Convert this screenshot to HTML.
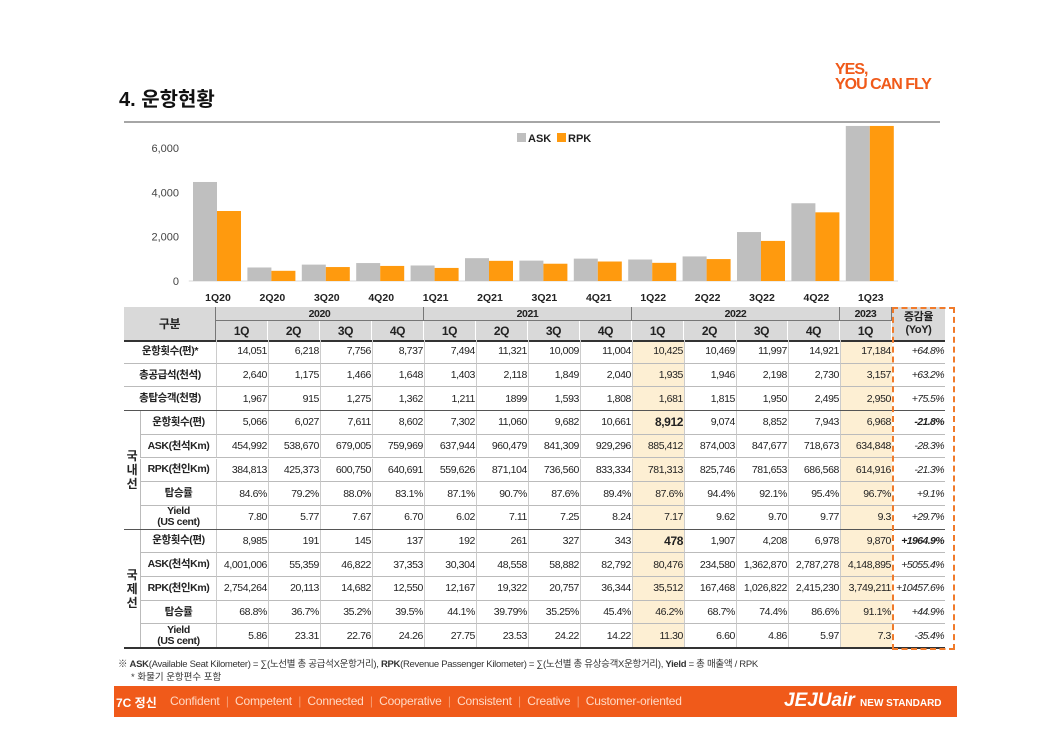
<!DOCTYPE html>
<html><head><meta charset="utf-8">
<style>
body{margin:0;width:1060px;height:749px;background:#fff;position:relative;overflow:hidden;font-family:"Liberation Sans Narrow","Liberation Sans","Noto Sans CJK KR",sans-serif;}
.abs{position:absolute;}
.c{position:absolute;box-sizing:border-box;font-size:10.5px;letter-spacing:-0.4px;color:#222;display:flex;align-items:center;white-space:nowrap;}
.r{justify-content:flex-end;padding-right:1px;}
.m{justify-content:center;text-align:center;}
</style></head><body>
<div class="abs" style="left:119px;top:83px;font-family:'Liberation Sans','Noto Sans CJK KR',sans-serif;font-weight:bold;font-size:20px;color:#111;">4. 운항현황</div>
<div class="abs" style="left:835px;top:62px;font-family:'Liberation Sans',sans-serif;font-weight:900;font-size:16px;line-height:15px;color:#f05a1a;letter-spacing:-1px;">YES,<br>YOU CAN FLY</div>
<div class="abs" style="left:124px;top:121px;width:816px;height:2px;background:#a6a6a6;"></div>

<svg class="abs" id="chart" style="left:0;top:0" width="1060" height="310"></svg>

<div id="table"></div>
<div class="abs" style="left:892px;top:307px;width:63px;height:343px;border:2px dashed #f07a2a;box-sizing:border-box;"></div>

<div class="abs" style="left:118px;top:656px;font-size:9.5px;letter-spacing:-0.3px;color:#333;">※ <b>ASK</b>(Available Seat Kilometer) = ∑(노선별 총 공급석X운항거리), <b>RPK</b>(Revenue Passenger Kilometer) = ∑(노선별 총 유상승객X운항거리), <b>Yield</b> = 총 매출액 / RPK</div>
<div class="abs" style="left:131px;top:669px;font-size:9.5px;color:#333;">* 화물기 운항편수 포함</div>

<div class="abs" style="left:114px;top:686px;width:843px;height:31px;background:#f05a1a;color:#fff;font-size:12px;font-family:'Liberation Sans','Noto Sans CJK KR',sans-serif;">
<span class="abs" style="left:2px;top:8px;font-weight:bold;">7C 정신</span>
<span class="abs" style="left:56px;top:8px;color:#ffd9c4;letter-spacing:-0.2px;">Confident <span style="color:#f79a70">&nbsp;|&nbsp;</span> Competent <span style="color:#f79a70">&nbsp;|&nbsp;</span> Connected <span style="color:#f79a70">&nbsp;|&nbsp;</span> Cooperative <span style="color:#f79a70">&nbsp;|&nbsp;</span> Consistent <span style="color:#f79a70">&nbsp;|&nbsp;</span> Creative <span style="color:#f79a70">&nbsp;|&nbsp;</span> Customer-oriented</span>
<span class="abs" style="left:670px;top:4px;font-weight:900;font-style:italic;font-size:19px;">JEJUair <span style="font-size:10px;font-style:normal;">NEW STANDARD</span></span>
</div>

<script>
const categories=["1Q20","2Q20","3Q20","4Q20","1Q21","2Q21","3Q21","4Q21","1Q22","2Q22","3Q22","4Q22","1Q23"];
const askValues=[4470,610,740,810,700,1030,920,1010,970,1110,2210,3510,7000];
const rpkValues=[3160,460,630,680,590,910,780,880,820,990,1810,3100,7000];
const yTicks=[0,2000,4000,6000];
const yTickLabels=["0","2,000","4,000","6,000"];
const svg=document.getElementById('chart');
const NS='http://www.w3.org/2000/svg';
const x0=190.8,step=54.4,base=281,pxPer=44.3/2000,yMax=7000;
function yS(v){return base-Math.min(v,yMax)*pxPer;}
function xC(i){return x0+step*(i+0.5);}
function mk(t,a){const e=document.createElementNS(NS,t);for(const k in a)e.setAttribute(k,a[k]);svg.appendChild(e);return e;}
let ax=mk('line',{x1:x0-2,x2:x0+step*13,y1:base,y2:base,stroke:'#d9d9d9'});


yTicks.forEach((v,i)=>{
 const t=mk('text',{x:179,y:yS(v)+4,'text-anchor':'end','font-size':11,fill:'#444','font-family':'Liberation Sans, sans-serif'});
 t.textContent=yTickLabels[i];
 
 
});
categories.forEach((c,i)=>{
 const cx=xC(i);
 const a=mk('rect',{x:cx-25,y:yS(askValues[i]),width:24,height:base-yS(askValues[i]),fill:'#bfbfbf'});
 
 
 const r=mk('rect',{x:cx-1,y:yS(rpkValues[i]),width:24,height:base-yS(rpkValues[i]),fill:'#ff9a0e'});
 
 
 const t=mk('text',{x:cx,y:301,'text-anchor':'middle','font-size':10.5,'font-weight':'bold',fill:'#222','font-family':'Liberation Sans, sans-serif'});
 t.textContent=c;
 
 
});
let l1=mk('rect',{x:517,y:133,width:9,height:9,fill:'#bfbfbf'});


let lt1=mk('text',{x:528,y:142,'font-size':11,'font-weight':'bold',fill:'#222','font-family':'Liberation Sans, sans-serif'});lt1.textContent='ASK';


let l2=mk('rect',{x:557,y:133,width:9,height:9,fill:'#ff9a0e'});


let lt2=mk('text',{x:568,y:142,'font-size':11,'font-weight':'bold',fill:'#222','font-family':'Liberation Sans, sans-serif'});lt2.textContent='RPK';



const rowLabels=["운항횟수(편)*","총공급석(천석)","총탑승객(천명)","운항횟수(편)","ASK(천석Km)","RPK(천인Km)","탑승률","Yield<br>(US cent)","운항횟수(편)","ASK(천석Km)","RPK(천인Km)","탑승률","Yield<br>(US cent)"];
const rows=[
["14,051","6,218","7,756","8,737","7,494","11,321","10,009","11,004","10,425","10,469","11,997","14,921","17,184","+64.8%"],
["2,640","1,175","1,466","1,648","1,403","2,118","1,849","2,040","1,935","1,946","2,198","2,730","3,157","+63.2%"],
["1,967","915","1,275","1,362","1,211","1899","1,593","1,808","1,681","1,815","1,950","2,495","2,950","+75.5%"],
["5,066","6,027","7,611","8,602","7,302","11,060","9,682","10,661","8,912","9,074","8,852","7,943","6,968","-21.8%"],
["454,992","538,670","679,005","759,969","637,944","960,479","841,309","929,296","885,412","874,003","847,677","718,673","634,848","-28.3%"],
["384,813","425,373","600,750","640,691","559,626","871,104","736,560","833,334","781,313","825,746","781,653","686,568","614,916","-21.3%"],
["84.6%","79.2%","88.0%","83.1%","87.1%","90.7%","87.6%","89.4%","87.6%","94.4%","92.1%","95.4%","96.7%","+9.1%"],
["7.80","5.77","7.67","6.70","6.02","7.11","7.25","8.24","7.17","9.62","9.70","9.77","9.3","+29.7%"],
["8,985","191","145","137","192","261","327","343","478","1,907","4,208","6,978","9,870","+1964.9%"],
["4,001,006","55,359","46,822","37,353","30,304","48,558","58,882","82,792","80,476","234,580","1,362,870","2,787,278","4,148,895","+5055.4%"],
["2,754,264","20,113","14,682","12,550","12,167","19,322","20,757","36,344","35,512","167,468","1,026,822","2,415,230","3,749,211","+10457.6%"],
["68.8%","36.7%","35.2%","39.5%","44.1%","39.79%","35.25%","45.4%","46.2%","68.7%","74.4%","86.6%","91.1%","+44.9%"],
["5.86","23.31","22.76","24.26","27.75","23.53","24.22","14.22","11.30","6.60","4.86","5.97","7.3","-35.4%"]];
const years=["2020","2021","2022","2023"];
const quarters=["1Q","2Q","3Q","4Q","1Q","2Q","3Q","4Q","1Q","2Q","3Q","4Q","1Q"];
const T=document.getElementById('table');
const L=124,C0=216,CW=52,TOP=307,H1=14,H2=19,RH=23.7;
function cell(x,y,w,h,html,cls,name,extra){
 const d=document.createElement('div');d.className='c '+cls;
 d.style.cssText+=`left:${x}px;top:${y}px;width:${w}px;height:${h}px;`+(extra||'');
 d.innerHTML=html;
 
 
 T.appendChild(d);return d;
}
const hdrTop=TOP+H1+H2;
cell(L,TOP,892-L,H1+H2,'','m','header-bg','background:#d9d9d9;');
cell(892,TOP,53,H1+H2,'증감율<br>(YoY)','m','yoy-header','background:#d9d9d9;font-weight:bold;line-height:13px;font-size:11px;');
cell(L,TOP,C0-L,H1+H2,'구분','m','header-category','font-weight:bold;font-size:12px;border-right:1px solid #777;');
const spans=[[0,4],[4,4],[8,4],[12,1]];
years.forEach((y,i)=>{cell(C0+spans[i][0]*CW,TOP,spans[i][1]*CW,H1,y,'m','year-header','font-weight:bold;border-bottom:1px solid #777;border-right:1px solid #777;');});
quarters.forEach((q,i)=>{cell(C0+i*CW,TOP+H1,CW,H2,q,'m','quarter-header','font-weight:bold;font-size:12px;border-right:1px solid #fff;');});
[8,12].forEach(ci=>{cell(C0+ci*CW,hdrTop,CW,13*RH,'','m','highlight-column','background:#fdefd3;');});
cell(L,hdrTop,892-L+53,1.6,'','m','header-bottom-line','background:#333;');
cell(L,hdrTop+3*RH,16,5*RH,'국<br>내<br>선','m','domestic-group','font-weight:bold;font-size:12px;line-height:14px;');
cell(L,hdrTop+8*RH,16,5*RH,'국<br>제<br>선','m','international-group','font-weight:bold;font-size:12px;line-height:14px;');
rows.forEach((r,ri)=>{
 const y=hdrTop+ri*RH;
 const lx=ri<3?L:L+16;
 cell(lx,y,C0-lx,RH,rowLabels[ri],'m','row-label','font-weight:bold;line-height:11px;border-bottom:1px solid #bbb;'+(ri>=3?'border-left:1px solid #bbb;':''));
 r.forEach((v,ci)=>{
  const bold=(ci==8&&(ri==3||ri==8));
  if(ci<13) cell(C0+ci*CW,y,CW,RH,v,'r','data-cell',`border-bottom:1px solid #bbb;border-left:1px solid #ccc;${bold?'font-weight:bold;font-size:12px;':''}`);
  else cell(892,y,53,RH,v,'r','yoy-cell',`border-bottom:1px solid #bbb;font-style:italic;letter-spacing:-0.6px;${(ri==3||ri==8)?'font-weight:bold;':''}`);
 });
});
cell(L,hdrTop+13*RH-1,892-L+53,1.6,'','m','table-bottom-line','background:#333;');
cell(L,hdrTop+3*RH-1,892-L+53,1.2,'','m','group-line','background:#555;');
cell(L,hdrTop+8*RH-1,892-L+53,1.2,'','m','group-line','background:#555;');
</script>
</body></html>
